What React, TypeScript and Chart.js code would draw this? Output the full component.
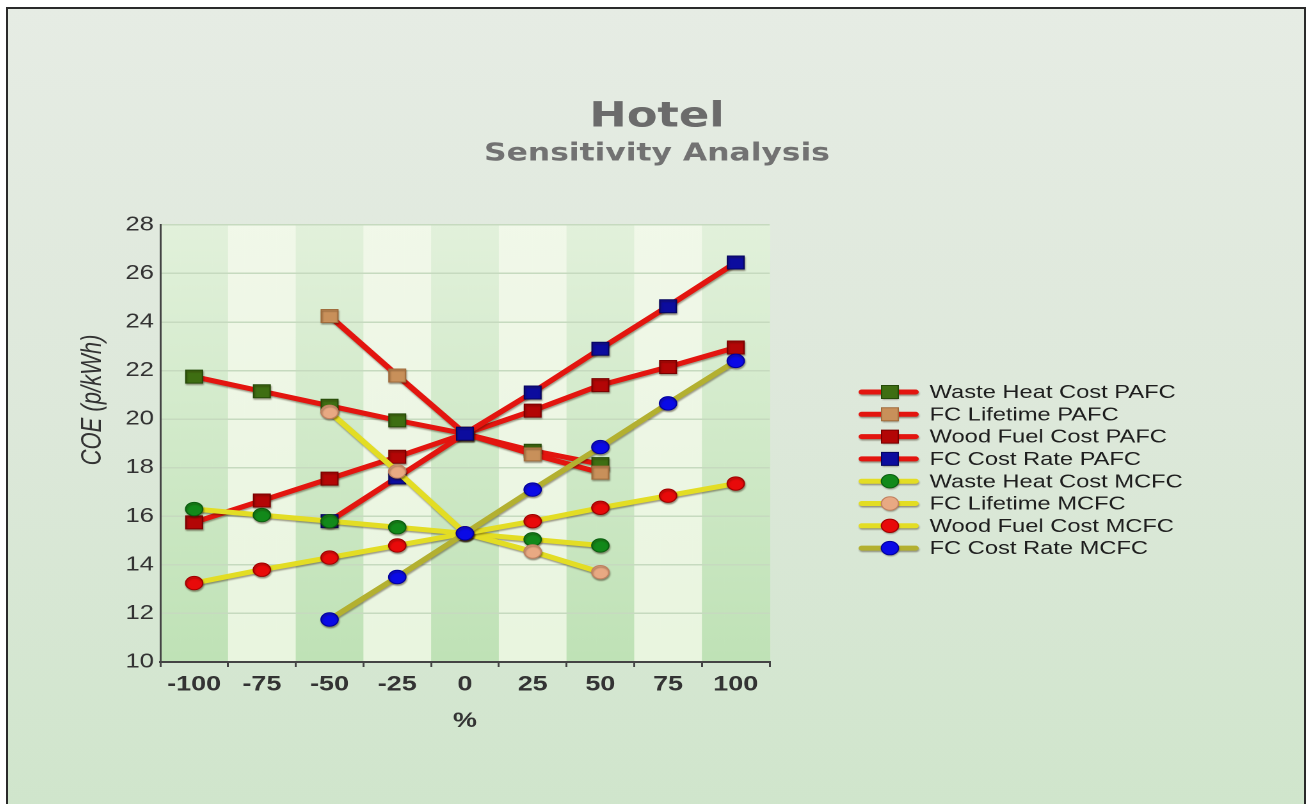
import React, { useEffect, useRef } from 'react';
import { Chart, registerables } from 'chart.js';

Chart.register(...registerables);

// ---------- data ----------
const categories = ['-100', '-75', '-50', '-25', '0', '25', '50', '75', '100'];

const wasteHeatPAFC = [21.75, 21.15, 20.55, 19.95, 19.4, 18.7, 18.15, null, null];
const lifetimePAFC = [null, null, 24.25, 21.8, 19.4, 18.55, 17.8, null, null];
const woodFuelPAFC = [15.75, 16.65, 17.55, 18.45, 19.4, 20.35, 21.4, 22.15, 22.95];
const costRatePAFC = [null, null, 15.8, 17.6, 19.4, 21.1, 22.9, 24.65, 26.45];
const wasteHeatMCFC = [16.3, 16.05, 15.8, 15.55, 15.3, 15.05, 14.8, null, null];
const lifetimeMCFC = [null, null, 20.3, 17.85, 15.3, 14.55, 13.7, null, null];
const woodFuelMCFC = [13.25, 13.8, 14.3, 14.8, 15.3, 15.8, 16.35, 16.85, 17.35];
const costRateMCFC = [null, null, 11.75, 13.5, 15.3, 17.1, 18.85, 20.65, 22.4];

const seriesLabels = [
  'Waste Heat Cost PAFC',
  'FC Lifetime PAFC',
  'Wood Fuel Cost PAFC',
  'FC Cost Rate PAFC',
  'Waste Heat Cost MCFC',
  'FC Lifetime MCFC',
  'Wood Fuel Cost MCFC',
  'FC Cost Rate MCFC',
];
const seriesValues = [
  wasteHeatPAFC, lifetimePAFC, woodFuelPAFC, costRatePAFC,
  wasteHeatMCFC, lifetimeMCFC, woodFuelMCFC, costRateMCFC,
];

const titleText = 'Hotel';
const subtitleText = 'Sensitivity Analysis';
const xTitleText = '%';
const yTitleText = 'COE (p/kWh)';
const yMin = 10;
const yMax = 28;
const yStep = 2;

// ---------- styles ----------
const PAFC_LINE = '#e3150f';
const MCFC_LINE = '#e3dd24';
const MCFC_RATE_LINE = '#b3b030';
const lineColors = [PAFC_LINE, PAFC_LINE, PAFC_LINE, PAFC_LINE, MCFC_LINE, MCFC_LINE, MCFC_LINE, MCFC_RATE_LINE];
const markerColors = ['#3e6e12', '#c8905a', '#b30606', '#0c0c9e', '#12891a', '#e8a983', '#e80a0a', '#0a0ae6'];
const markerBorders = ['#254a08', '#a06c3c', '#7a0000', '#05055e', '#0b5e10', '#c08060', '#a00000', '#0000a0'];
const markerStyles = ['rect', 'rect', 'rect', 'rect', 'circle', 'circle', 'circle', 'circle'];

const SX = 1.28; // horizontal stretch of the reference picture
const CW = 1014;
const CH = 795;
const FONT = "'Liberation Sans', Arial, sans-serif";
const TITLE_FONT = "'DejaVu Sans', Verdana, sans-serif";

const RECT_R = 9.2;
const CIRC_R = 6.7;

// legend geometry (canvas coords)
const LEG_X0 = 667;
const LEG_X1 = 709;
const LEG_MX = 689;
const LEG_TX = 720;
const LEG_Y0 = 383;
const LEG_DY = 22.3;

const bandsPlugin = {
  id: 'bands',
  beforeDraw(chart: any) {
    const { ctx, chartArea: a, scales } = chart;
    const x = scales.x;
    const n = categories.length;
    const w = (a.right - a.left) / n;
    ctx.save();
    for (let i = 0; i < n; i++) {
      const cx = x.getPixelForValue(i);
      const g = ctx.createLinearGradient(0, a.top, 0, a.bottom);
      if (i % 2 === 0) {
        g.addColorStop(0, '#e2f1db');
        g.addColorStop(1, '#bfe2b6');
      } else {
        g.addColorStop(0, '#f1f8e9');
        g.addColorStop(1, '#e9f5df');
      }
      ctx.fillStyle = g;
      ctx.fillRect(cx - w / 2, a.top, w + 0.5, a.bottom - a.top);
    }
    ctx.restore();
  },
};

const shadowPlugin = {
  id: 'lineShadow',
  beforeDatasetDraw(chart: any) {
    const ctx = chart.ctx;
    ctx.save();
    ctx.shadowColor = 'rgba(40,20,0,0.4)';
    ctx.shadowBlur = 3;
    ctx.shadowOffsetX = 1;
    ctx.shadowOffsetY = 3;
  },
  afterDatasetDraw(chart: any) {
    chart.ctx.restore();
  },
};

const sidePlugin = {
  id: 'sideLegend',
  afterDraw(chart: any) {
    const ctx = chart.ctx;
    // y axis title
    ctx.save();
    ctx.translate(66.4, 391);
    ctx.rotate(-Math.PI / 2);
    ctx.font = `italic 22px ${FONT}`;
    ctx.fillStyle = '#333333';
    ctx.textAlign = 'center';
    ctx.textBaseline = 'middle';
    ctx.fillText(yTitleText, 0, 0);
    ctx.restore();

    // legend
    chart.data.datasets.forEach((ds: any, i: number) => {
      const y = LEG_Y0 + i * LEG_DY;
      ctx.save();
      ctx.shadowColor = 'rgba(40,20,0,0.4)';
      ctx.shadowBlur = 3;
      ctx.shadowOffsetX = 1;
      ctx.shadowOffsetY = 3;
      ctx.strokeStyle = ds.borderColor;
      ctx.lineWidth = 5;
      ctx.lineCap = 'round';
      ctx.beginPath();
      ctx.moveTo(LEG_X0, y);
      ctx.lineTo(LEG_X1, y);
      ctx.stroke();
      ctx.fillStyle = ds.pointBackgroundColor;
      ctx.strokeStyle = ds.pointBorderColor;
      ctx.lineWidth = 1;
      ctx.beginPath();
      if (ds.pointStyle === 'rect') {
        const s = RECT_R * Math.SQRT1_2;
        ctx.rect(LEG_MX - s, y - s, 2 * s, 2 * s);
      } else {
        ctx.arc(LEG_MX, y, CIRC_R, 0, Math.PI * 2);
      }
      ctx.fill();
      ctx.shadowColor = 'transparent';
      ctx.stroke();
      ctx.restore();

      ctx.save();
      ctx.font = `18.5px ${FONT}`;
      ctx.fillStyle = '#1e1e1e';
      ctx.textAlign = 'left';
      ctx.textBaseline = 'middle';
      ctx.fillText(ds.label, LEG_TX, y + 1);
      ctx.restore();
    });
  },
};

export default function App() {
  const ref = useRef<HTMLCanvasElement>(null);

  useEffect(() => {
    const datasets = seriesLabels.map((label, i) => ({
      label,
      data: seriesValues[i],
      borderColor: lineColors[i],
      backgroundColor: markerColors[i],
      pointBackgroundColor: markerColors[i],
      pointBorderColor: markerBorders[i],
      pointBorderWidth: 1,
      pointStyle: markerStyles[i],
      pointRadius: markerStyles[i] === 'rect' ? RECT_R : CIRC_R,
      borderWidth: 5,
      tension: 0,
      spanGaps: false,
      order: 20 - i,
    }));

    const chart = new Chart(ref.current as HTMLCanvasElement, {
      type: 'line',
      data: { labels: categories, datasets },
      plugins: [bandsPlugin, shadowPlugin, sidePlugin],
      options: {
        responsive: false,
        maintainAspectRatio: false,
        devicePixelRatio: 2,
        animation: false,
        layout: { padding: 0 },
        plugins: {
          legend: { display: false },
          tooltip: { enabled: false },
          title: {
            display: true,
            text: titleText,
            color: '#6b6b6b',
            font: { family: TITLE_FONT, size: 35, weight: 'bold', lineHeight: 1.2 },
            padding: { top: 87.5, bottom: 0 },
          },
          subtitle: {
            display: true,
            text: subtitleText,
            color: '#727272',
            font: { family: TITLE_FONT, size: 24.5, weight: 'bold', lineHeight: 1.2 },
            padding: { top: 1, bottom: 56 },
          },
        },
        scales: {
          x: {
            type: 'category',
            offset: true,
            grid: {
              display: true,
              drawOnChartArea: false,
              drawTicks: true,
              tickLength: 5,
              offset: true,
              color: '#444444',
              lineWidth: 1.5,
            },
            border: { display: true, color: '#444444', width: 2 },
            ticks: {
              color: '#333333',
              font: { family: FONT, size: 21, weight: 'bold' },
              padding: 5,
              maxRotation: 0,
              autoSkip: false,
            },
            title: {
              display: true,
              text: xTitleText,
              color: '#333333',
              font: { family: FONT, size: 21, weight: 'bold' },
              padding: { top: 0, bottom: 70 },
            },
            afterFit: (s: any) => { s.height = 142; },
          },
          y: {
            type: 'linear',
            min: yMin,
            max: yMax,
            ticks: {
              stepSize: yStep,
              color: '#333333',
              font: { family: FONT, size: 20 },
              padding: 5,
            },
            grid: { color: '#c6dabf', lineWidth: 1.5, drawTicks: false },
            border: { display: true, color: '#444444', width: 1.5 },
            afterFit: (s: any) => { s.width = 119; },
          },
          pad: {
            type: 'linear',
            position: 'right',
            display: true,
            min: 0,
            max: 1,
            ticks: { display: false },
            grid: { display: false, drawTicks: false },
            border: { display: false },
            afterFit: (s: any) => { s.width = 419; },
          },
        },
      } as any,
    });
    return () => chart.destroy();
  }, []);

  return (
    <div
      style={{
        position: 'fixed',
        left: 6,
        top: 7,
        width: 1300,
        height: 820,
        boxSizing: 'border-box',
        borderLeft: '2px solid #2a2a2a',
        borderTop: '2px solid #2a2a2a',
        borderRight: '2px solid #2a2a2a',
        background: 'linear-gradient(to bottom, #e6ece4 0%, #dde8da 50%, #cfe5cb 100%)',
        overflow: 'hidden',
      }}
    >
      <div
        style={{
          position: 'absolute',
          left: 0,
          top: 0,
          width: CW,
          height: CH,
          transform: `scaleX(${SX})`,
          transformOrigin: '0 0',
        }}
      >
        <canvas ref={ref} width={CW} height={CH} style={{ display: 'block' }} />
      </div>
    </div>
  );
}
